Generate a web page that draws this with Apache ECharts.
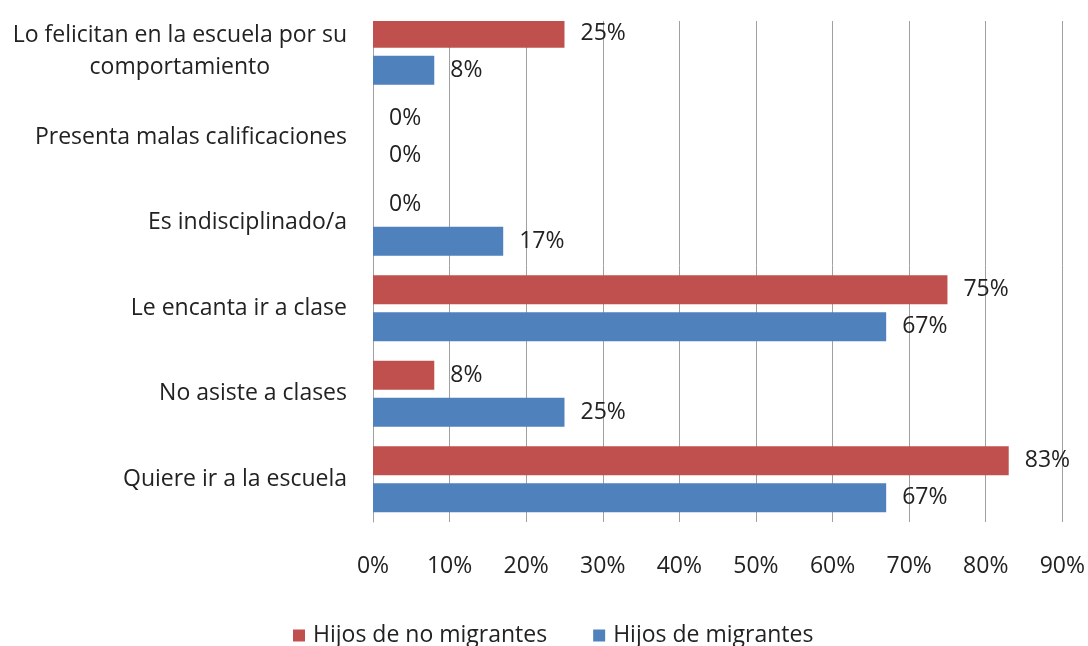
<!DOCTYPE html>
<html>
<head>
<meta charset="utf-8">
<script src="https://cdn.jsdelivr.net/npm/echarts@6/dist/echarts.min.js"></script>
<style>html,body{margin:0;padding:0;background:#fff}#c{width:1088px;height:646px}</style>
</head>
<body>
<div id="c"></div>
<script>
const categories = [
  "Quiere ir a la escuela",
  "No asiste a clases",
  "Le encanta ir a clase",
  "Es indisciplinado/a",
  "Presenta malas calificaciones",
  "Lo felicitan en la escuela por su\ncomportamiento"
];
const noMigrantes = [83, 8, 75, 0, 0, 25];
const migrantes = [67, 25, 67, 17, 0, 8];
const xTicks = [0, 10, 20, 30, 40, 50, 60, 70, 80, 90];

const FONT = 'Open Sans';
const FS = 23;
const TXT = '#222';
const chart = echarts.init(document.getElementById('c'));
const labelCfg = {
  show: true, position: 'right', distance: 16,
  formatter: p => p.value + '%',
  fontFamily: FONT, fontSize: FS, color: TXT
};
chart.setOption({
  animation: false,
  textStyle: { fontFamily: FONT },
  grid: { left: 373, right: 22, top: 9, bottom: 124, containLabel: false },
  legend: {
    top: 619, left: 288,
    itemWidth: 12, itemHeight: 12, itemGap: 46,
    icon: 'rect',
    textStyle: { fontFamily: FONT, fontSize: FS, color: TXT, padding: [0, 0, 0, 3] },
    data: ['Hijos de no migrantes', 'Hijos de migrantes']
  },
  xAxis: {
    type: 'value', min: xTicks[0], max: xTicks[xTicks.length - 1], interval: 10,
    axisLine: { show: false },
    axisTick: { show: false },
    splitLine: { show: true, lineStyle: { color: '#a0a0a0', width: 1 } },
    axisLabel: { formatter: v => v + '%', fontFamily: FONT, fontSize: FS, color: TXT, margin: 33 }
  },
  yAxis: {
    type: 'category', data: categories,
    axisLine: { show: true, lineStyle: { color: '#a0a0a0' } },
    axisTick: { show: false },
    axisLabel: {
      margin: 26, fontFamily: FONT, fontSize: FS, color: TXT, lineHeight: 32,
      formatter: v => v.split('\n').map(l => '{c|' + l + '}').join('\n'),
      rich: { c: { align: 'center', fontFamily: FONT, fontSize: FS, color: TXT, lineHeight: 32 } }
    }
  },
  series: [
    {
      name: 'Hijos de no migrantes', type: 'bar', data: noMigrantes,
      itemStyle: { color: '#C0504D' }, barWidth: 29, barGap: '28%',
      label: labelCfg
    },
    {
      name: 'Hijos de migrantes', type: 'bar', data: migrantes,
      itemStyle: { color: '#4F81BD' }, barWidth: 29, barGap: '28%',
      label: labelCfg
    }
  ],
  graphic: [{
    type: 'rect', z: 100, silent: true,
    shape: { x: 360, y: 0, width: 728, height: 21 },
    style: { fill: '#fff' }
  }]
});
</script>
</body>
</html>
